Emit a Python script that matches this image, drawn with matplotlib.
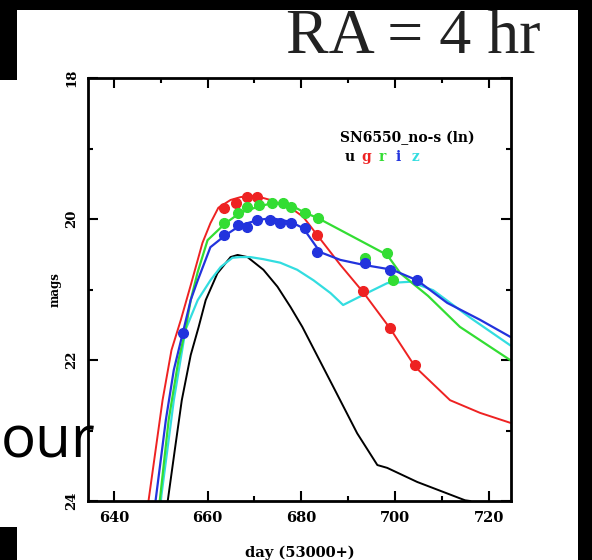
import numpy as np
import matplotlib
matplotlib.use('Agg')
import matplotlib.pyplot as plt
from matplotlib.patches import Rectangle
from matplotlib.ticker import MultipleLocator

# model light curves (day 53000+, mag)
u_day = [651.5, 653.0, 654.5, 656.4, 658.1, 659.6, 662.1, 664.9, 666.4, 668.5, 671.9, 674.9,
         677.7, 680.2, 686.8, 691.9, 696.2, 698.3, 704.7, 710.2, 714.9, 716.0]
u_mag = [24.0, 23.28, 22.57, 21.93, 21.53, 21.15, 20.77, 20.54, 20.51, 20.54, 20.72, 20.96,
         21.25, 21.53, 22.38, 23.04, 23.49, 23.53, 23.73, 23.87, 23.99, 24.0]

g_day = [647.4, 650.4, 652.3, 654.3, 656.4, 658.9, 660.6, 662.3, 664.9, 667.0, 669.1, 671.2,
         673.4, 677.7, 680.4, 683.4, 688.3, 693.2, 698.9, 704.3, 711.7, 718.1, 724.5]
g_mag = [24.0, 22.57, 21.86, 21.43, 20.94, 20.34, 20.06, 19.84, 19.73, 19.69, 19.67, 19.69,
         19.73, 19.84, 19.97, 20.23, 20.65, 21.04, 21.55, 22.10, 22.57, 22.75, 22.89]

r_day = [649.8, 651.7, 653.8, 655.3, 656.4, 657.9, 660.0, 663.8, 667.0, 670.6, 674.0, 677.7,
         680.4, 683.6, 698.3, 701.1, 707.0, 713.8, 724.5]
r_mag = [24.0, 22.85, 22.0, 21.57, 21.15, 20.75, 20.30, 20.06, 19.91, 19.83, 19.77, 19.80,
         19.90, 19.99, 20.51, 20.77, 21.09, 21.53, 22.0]

i_day = [648.9, 651.1, 652.8, 654.7, 656.4, 657.9, 660.6, 663.8, 667.0, 670.9, 673.8, 677.7,
         680.4, 684.0, 688.3, 693.2, 699.4, 704.7, 711.1, 718.1, 724.5]
i_mag = [24.0, 22.85, 22.14, 21.62, 21.15, 20.87, 20.40, 20.23, 20.09, 20.01, 19.99, 20.04,
         20.13, 20.47, 20.58, 20.65, 20.72, 20.87, 21.19, 21.43, 21.67]

z_day = [650.0, 652.8, 655.3, 657.9, 660.6, 662.8, 665.3, 667.0, 669.1, 671.9, 675.5, 679.1,
         682.6, 686.2, 688.9, 694.0, 698.3, 703.2, 708.1, 716.0, 724.5]
z_mag = [24.0, 22.57, 21.57, 21.15, 20.87, 20.68, 20.55, 20.54, 20.54, 20.57, 20.62, 20.72,
         20.87, 21.05, 21.22, 21.05, 20.91, 20.89, 21.01, 21.40, 21.79]

# observed points
g_obs_day = [663.4, 666.0, 668.5, 670.6, 683.4, 693.2, 698.9, 704.3]
g_obs_mag = [19.84, 19.78, 19.69, 19.69, 20.22, 21.02, 21.55, 22.07]
r_obs_day = [663.4, 666.4, 668.5, 671.0, 673.8, 676.0, 677.7, 680.8, 683.6, 693.6, 698.3, 699.6]
r_obs_mag = [20.06, 19.91, 19.83, 19.80, 19.77, 19.77, 19.83, 19.91, 19.99, 20.55, 20.48, 20.87]
i_obs_day = [654.7, 663.4, 666.4, 668.5, 670.6, 673.4, 675.5, 677.7, 680.8, 683.4, 693.6, 698.9, 704.7]
i_obs_mag = [21.62, 20.23, 20.09, 20.11, 20.01, 20.01, 20.06, 20.06, 20.13, 20.47, 20.62, 20.72, 20.87]

bands = ['u', 'g', 'r', 'i', 'z']
colors = ['black', '#ee2222', '#33dd33', '#2233dd', '#33dde0']

W, H = 592, 560
fig = plt.figure(figsize=(W / 100, H / 100), dpi=100, facecolor='black')


def fr(x0, y0, x1, y1):
    # pixel box (top-left origin) -> figure fraction rectangle
    return (x0 / W, 1 - y1 / H), (x1 - x0) / W, (y1 - y0) / H


for box, col, z in [((17, 10, 578, 560), 'white', -2), ((0, 80, 17, 527), 'white', -2),
                    ((0, 0, 592, 10), 'black', 10)]:
    xy, w, h = fr(*box)
    fig.add_artist(Rectangle(xy, w, h, transform=fig.transFigure, facecolor=col,
                             edgecolor='none', zorder=z))

fig.text(541 / W, 1 - 53 / H, 'RA = 4 hr', family='Liberation Serif', fontsize=46,
         color='#222222', ha='right', va='baseline', zorder=5)

ax = fig.add_axes([88 / W, 1 - 501 / H, 423 / W, 423 / H])
ax.plot(u_day, u_mag, color=colors[0], lw=1.4)
ax.plot(z_day, z_mag, color=colors[4], lw=1.6)
ax.plot(g_day, g_mag, color=colors[1], lw=1.4)
ax.plot(r_day, r_mag, color=colors[2], lw=1.6)
ax.plot(i_day, i_mag, color=colors[3], lw=1.6)
ax.plot(g_obs_day, g_obs_mag, 'o', color=colors[1], ms=7)
ax.plot(r_obs_day, r_obs_mag, 'o', color=colors[2], ms=7)
ax.plot(i_obs_day, i_obs_mag, 'o', color=colors[3], ms=7)

ax.set_xlim(634.5, 724.7)
ax.set_ylim(24, 18)
ax.xaxis.set_major_locator(MultipleLocator(20))
ax.xaxis.set_minor_locator(MultipleLocator(10))
ax.yaxis.set_major_locator(MultipleLocator(2))
ax.yaxis.set_minor_locator(MultipleLocator(1))
ax.tick_params(which='both', direction='in', top=True, right=True, width=1.5)
ax.tick_params(which='major', length=7, pad=7)
ax.tick_params(which='minor', length=3.5)
for s in ax.spines.values():
    s.set_linewidth(2)

tfont = dict(family='DejaVu Serif', weight='bold')
for lab in ax.get_xticklabels():
    lab.set_fontsize(10.5)
    lab.set(**tfont)
for lab in ax.get_yticklabels():
    lab.set_fontsize(9.5)
    lab.set(**tfont)
    lab.set_rotation(90)
    lab.set_va('center')

ax.set_xlabel('day (53000+)', fontsize=10.5, **tfont)
ax.xaxis.set_label_coords(0.5, -0.105)
ax.set_ylabel('mags', fontsize=8.5, **tfont)
ax.yaxis.set_label_coords(-0.062, 0.5)

ax.text(0.596, 0.858, 'SN6550_no-s (ln)', transform=ax.transAxes, fontsize=10,
        va='center', ha='left', **tfont)
for k, (b, c) in enumerate(zip(bands, colors)):
    ax.text(0.606 + 0.04 * k, 0.813, b, transform=ax.transAxes, color=c, fontsize=10,
            va='center', ha='left', **tfont)

fig.text(1 / W, 1 - 457 / H, 'our', family='Open Sans', fontsize=42, color='black',
         ha='left', va='baseline', zorder=5)

fig.savefig('out.png', dpi=100, facecolor=fig.get_facecolor())
